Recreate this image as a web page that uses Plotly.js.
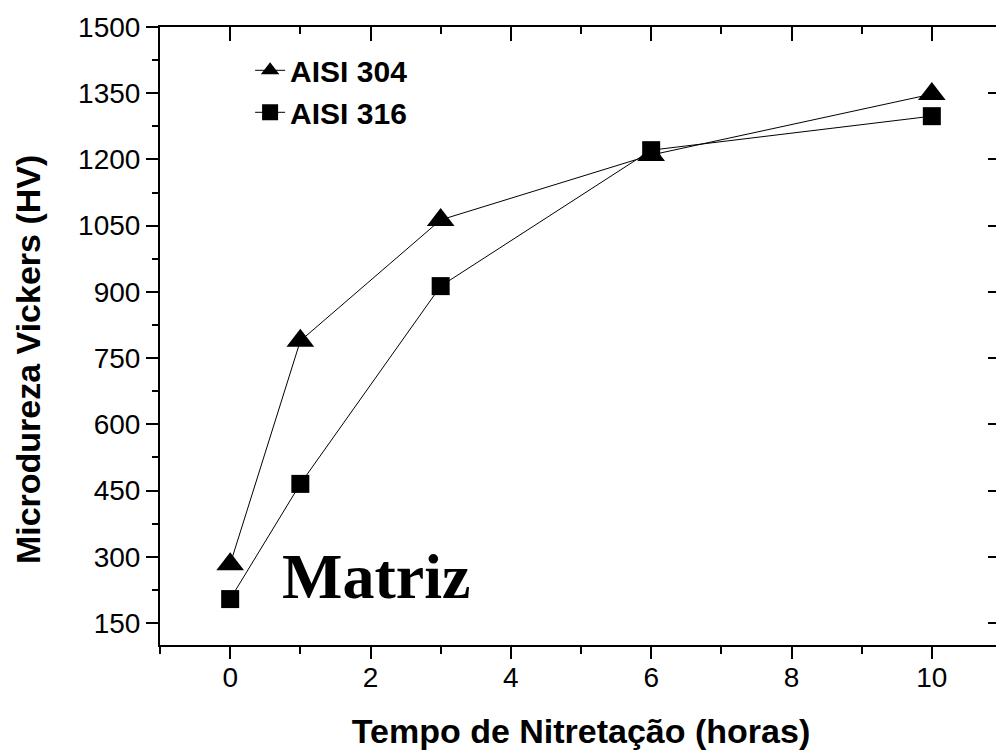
<!DOCTYPE html>
<html>
<head>
<meta charset="utf-8">
<script src="https://cdn.plot.ly/plotly-3.0.1.min.js"></script>
<style>
html,body{margin:0;padding:0;overflow:hidden;background:#fff;}
#chart{width:1002px;height:751px;}
</style>
</head>
<body>
<div id="chart"></div>
<script>
const hours = [0, 1, 3, 6, 10];
const aisi304 = [283, 789, 1063, 1210, 1348];
const aisi316 = [204, 465, 913, 1221, 1298];
const seriesNames = ["AISI 304", "AISI 316"];
const annotationText = "Matriz";
const xTitle = "Tempo de Nitretação (horas)";
const yTitle = "Microdureza Vickers (HV)";

const sansFont = "Liberation Sans, Arial, Helvetica, sans-serif";
const serifFont = "Liberation Serif, Times New Roman, serif";

const traces = [
  {
    x: hours, y: aisi304, name: seriesNames[0], type: "scatter", mode: "lines+markers",
    line: {color: "#000", width: 1},
    marker: {symbol: "triangle-up", size: 24, color: "#000"}
  },
  {
    x: hours, y: aisi316, name: seriesNames[1], type: "scatter", mode: "lines+markers",
    line: {color: "#000", width: 1},
    marker: {symbol: "square", size: 18, color: "#000"}
  }
];

const xRange = [-1, 11];
const yRange = [100, 1500];

const layout = {
  width: 1002, height: 751,
  margin: {l: 160, r: 0, t: 27, b: 106, pad: 0},
  paper_bgcolor: "#fff", plot_bgcolor: "#fff",
  font: {family: sansFont, color: "#000"},
  showlegend: true,
  legend: {
    x: 0.107, y: 0.972, xanchor: "left", yanchor: "top",
    bgcolor: "rgba(0,0,0,0)",
    font: {family: sansFont, size: 30, weight: "bold", color: "#000"},
    tracegroupgap: 0
  },
  xaxis: {
    range: xRange, tick0: 0, dtick: 2,
    ticks: "outside", ticklen: 12, tickwidth: 2, tickcolor: "#000",
    minor: {dtick: 1, tick0: 0, ticks: "outside", ticklen: 7, tickwidth: 2, tickcolor: "#000"},
    showline: true, linewidth: 2, linecolor: "#000",
    showgrid: false, zeroline: false,
    ticklabelstandoff: -6,
    tickfont: {family: sansFont, size: 28, color: "#000"},
    title: {text: xTitle, font: {family: sansFont, size: 34, weight: "bold", color: "#000"}, standoff: 28}
  },
  yaxis: {
    range: yRange, tick0: 0, dtick: 150,
    ticks: "outside", ticklen: 12, tickwidth: 2, tickcolor: "#000",
    minor: {dtick: 75, tick0: 0, ticks: "outside", ticklen: 6, tickwidth: 2, tickcolor: "#000"},
    showline: true, linewidth: 2, linecolor: "#000",
    showgrid: false, zeroline: false,
    tickfont: {family: sansFont, size: 28, color: "#000"}
  },
  xaxis2: {
    range: xRange, overlaying: "x", side: "top", tick0: 0, dtick: 2,
    ticks: "inside", ticklen: 14, tickwidth: 2, tickcolor: "#000",
    minor: {dtick: 1, tick0: 0, ticks: "inside", ticklen: 7, tickwidth: 2, tickcolor: "#000"},
    showline: true, linewidth: 2, linecolor: "#000",
    showticklabels: false, showgrid: false, zeroline: false
  },
  yaxis2: {
    range: yRange, overlaying: "y", side: "right", tick0: 0, dtick: 150,
    ticks: "inside", ticklen: 14, tickwidth: 2, tickcolor: "#000",
    minor: {dtick: 75, tick0: 0, ticks: "inside", ticklen: 6, tickwidth: 2, tickcolor: "#000"},
    showline: true, linewidth: 2, linecolor: "#000",
    showticklabels: false, showgrid: false, zeroline: false
  },
  annotations: [
    {
      x: 2.08, y: 255, xref: "x", yref: "y", text: annotationText, showarrow: false,
      xanchor: "center", yanchor: "middle",
      font: {family: serifFont, size: 64, weight: "bold", color: "#000"}
    },
    {
      x: 0, y: 0.461, xref: "paper", yref: "paper", xshift: -132, text: yTitle, showarrow: false,
      textangle: -90, xanchor: "center", yanchor: "middle",
      font: {family: sansFont, size: 34, weight: "bold", color: "#000"}
    }
  ]
};

// dummy trace to activate the mirror axes (no visible marks)
traces.push({x: [null], y: [null], xaxis: "x2", yaxis: "y2", showlegend: false, hoverinfo: "skip", type: "scatter", mode: "markers"});

Plotly.newPlot("chart", traces, layout, {staticPlot: true, displayModeBar: false});
</script>
</body>
</html>
